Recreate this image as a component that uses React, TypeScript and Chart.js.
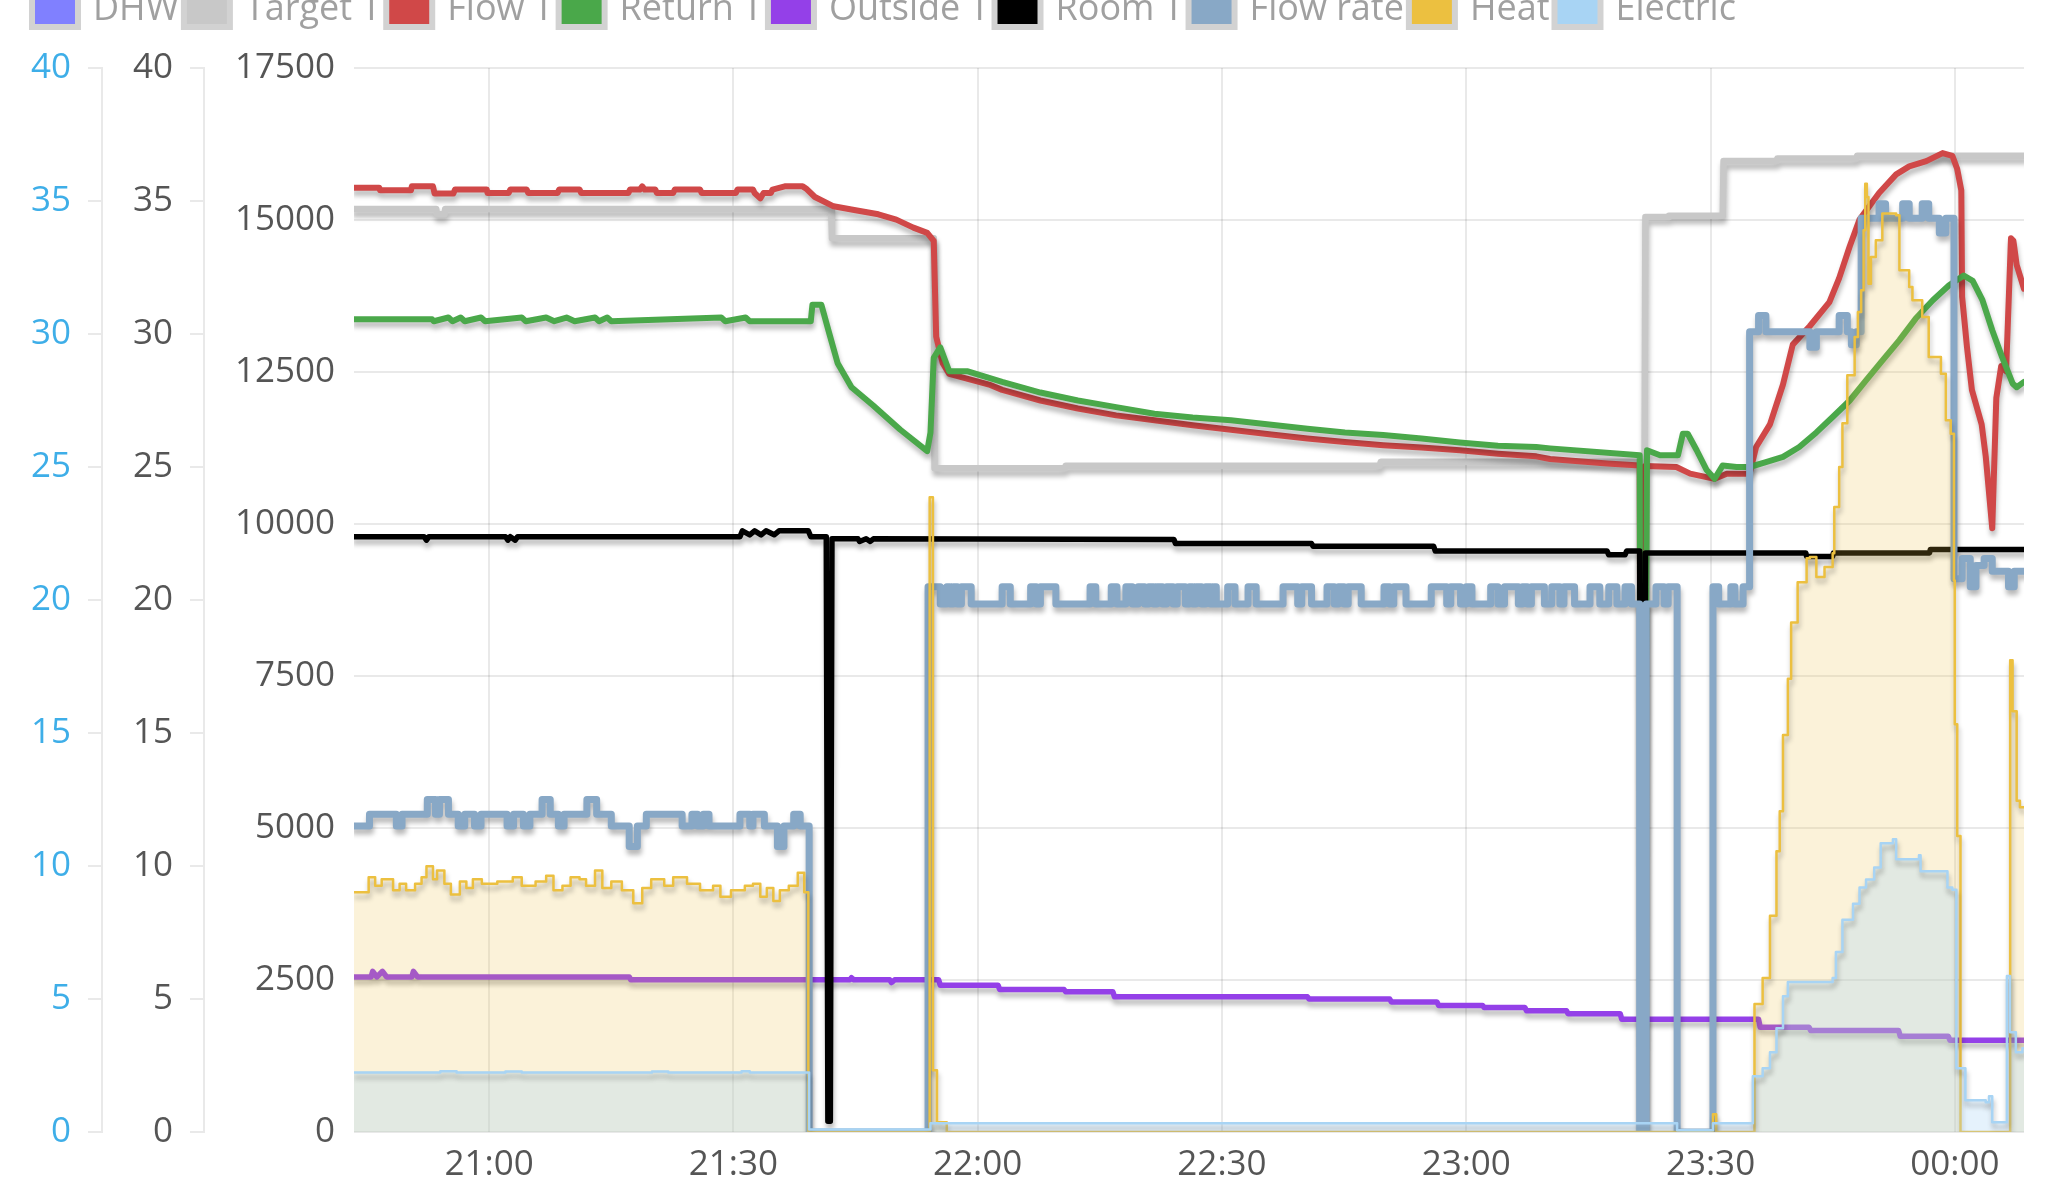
import React, { useEffect, useRef } from 'react';
import { Chart, registerables } from 'chart.js';

Chart.register(...registerables);

type Pt = [number, number];

// time in minutes since 00:00 of the first day (21:00 = 1260, 00:00 = 1440)
const X_MIN = 1243.4;
const X_MAX = 1448.5;
const xTickValues = [1260, 1290, 1320, 1350, 1380, 1410, 1440];
const xTickLabels = ['21:00', '21:30', '22:00', '22:30', '23:00', '23:30', '00:00'];

const seriesNames = ['DHW', 'Target T', 'Flow T', 'Return T', 'Outside T', 'Room T', 'Flow rate', 'Heat', 'Electric'];
const seriesColors = ['#8080ff', '#c8c8c8', '#d04848', '#4aa84a', '#9440e8', '#000000', '#88a8c6', '#ecc040', '#a8d4f4'];

const dhw: Pt[] = [];

const targetT: Pt[] = [
  [1243.4, 34.7], [1253.5, 34.7], [1253.6, 34.5], [1254.5, 34.5], [1254.6, 34.7], [1302.0, 34.7],
  [1302.1, 33.6], [1314.6, 33.6], [1314.7, 24.95], [1330.7, 24.95], [1330.8, 25.05], [1369.4, 25.05],
  [1369.5, 25.2], [1401.9, 25.2], [1402.0, 34.4], [1404.8, 34.4], [1404.9, 34.45], [1411.5, 34.45],
  [1411.6, 36.5], [1418.1, 36.5], [1418.2, 36.6], [1427.9, 36.6], [1428.0, 36.7], [1448.5, 36.7],
];

const flowT: Pt[] = [
  [1243.4, 35.5], [1246.5, 35.5], [1246.6, 35.4], [1250.4, 35.4], [1250.5, 35.55], [1253.1, 35.55],
  [1253.3, 35.28], [1255.6, 35.28], [1255.8, 35.43], [1259.7, 35.43], [1259.8, 35.3], [1262.4, 35.3],
  [1262.6, 35.43], [1264.6, 35.43], [1264.8, 35.3], [1268.4, 35.3], [1268.6, 35.43], [1271.1, 35.43],
  [1271.3, 35.3], [1277.1, 35.3], [1277.3, 35.43], [1278.5, 35.43], [1278.8, 35.55], [1279.1, 35.43],
  [1280.4, 35.43], [1280.6, 35.3], [1282.6, 35.3], [1282.8, 35.43], [1285.9, 35.43], [1286.1, 35.3],
  [1290.3, 35.3], [1290.5, 35.43], [1292.4, 35.43], [1292.6, 35.3], [1293.3, 35.1], [1293.7, 35.3],
  [1294.6, 35.3], [1294.8, 35.43], [1296.3, 35.55], [1298.5, 35.55], [1299.0, 35.45], [1300.0, 35.15],
  [1302.3, 34.8], [1305.0, 34.65], [1307.8, 34.5], [1310.0, 34.3], [1312.1, 34.0], [1313.8, 33.8],
  [1314.6, 33.5], [1314.9, 29.9], [1315.7, 28.9], [1316.5, 28.5], [1321.4, 28.1], [1323.0, 27.9],
  [1327.7, 27.5], [1332.3, 27.2], [1337.0, 26.94], [1341.7, 26.76], [1346.4, 26.57], [1351.1, 26.4],
  [1355.8, 26.23], [1360.5, 26.07], [1365.1, 25.94], [1369.8, 25.82], [1374.5, 25.73], [1379.2, 25.63],
  [1383.9, 25.5], [1388.6, 25.4], [1390.3, 25.3], [1397.3, 25.13], [1401.3, 25.06], [1401.5, 0],
  [1401.8, 0], [1402.0, 25.04], [1405.8, 25.0], [1407.5, 24.75], [1409.5, 24.62], [1410.5, 24.56],
  [1412.0, 24.75], [1414.8, 24.75], [1415.6, 25.75], [1417.3, 26.6], [1418.9, 28.1], [1420.1, 29.6],
  [1422.2, 30.3], [1424.6, 31.2], [1425.8, 32.1], [1427.1, 33.3], [1428.3, 34.3], [1430.7, 35.3],
  [1432.8, 36.0], [1434.4, 36.3], [1436.5, 36.5], [1438.5, 36.8], [1439.7, 36.7], [1440.3, 36.2],
  [1440.8, 35.4], [1440.9, 31.4], [1441.5, 29.5], [1442.1, 27.9], [1443.3, 26.6], [1443.8, 25.4],
  [1444.6, 22.7], [1445.1, 27.6], [1445.7, 28.8], [1446.3, 28.6], [1446.9, 33.6], [1447.2, 33.5],
  [1447.6, 32.6], [1448.5, 31.7],
];

const returnT: Pt[] = [
  [1243.4, 30.55], [1253.0, 30.55], [1253.2, 30.48], [1255.0, 30.62], [1255.5, 30.48], [1256.5, 30.62],
  [1257.0, 30.48], [1259.0, 30.62], [1259.5, 30.48], [1264.0, 30.62], [1264.5, 30.48], [1267.0, 30.62],
  [1268.0, 30.48], [1269.5, 30.62], [1270.5, 30.48], [1273.0, 30.62], [1273.5, 30.48], [1274.5, 30.62],
  [1275.0, 30.48], [1288.5, 30.62], [1289.0, 30.48], [1291.5, 30.62], [1292.0, 30.48], [1299.5, 30.48],
  [1299.7, 31.1], [1300.8, 31.1], [1301.7, 30.1], [1302.8, 28.9], [1304.5, 28.0], [1307.2, 27.3],
  [1310.5, 26.4], [1313.8, 25.6], [1314.2, 26.3], [1314.6, 29.1], [1315.4, 29.5], [1316.5, 28.6],
  [1318.7, 28.6], [1323.0, 28.2], [1327.7, 27.8], [1332.3, 27.5], [1337.0, 27.25], [1341.7, 27.0],
  [1346.4, 26.86], [1351.1, 26.76], [1355.8, 26.6], [1360.5, 26.44], [1365.1, 26.3], [1369.8, 26.2],
  [1374.5, 26.07], [1379.2, 25.92], [1383.9, 25.8], [1388.6, 25.75], [1390.3, 25.7], [1401.3, 25.44],
  [1401.5, 0], [1401.8, 0], [1402.2, 25.63], [1403.8, 25.44], [1406.0, 25.44], [1406.6, 26.25],
  [1407.2, 26.25], [1408.3, 25.63], [1409.5, 24.9], [1410.5, 24.56], [1411.5, 25.06], [1413.2, 25.0],
  [1414.8, 25.0], [1416.9, 25.19], [1418.9, 25.38], [1420.9, 25.75], [1423.0, 26.3], [1425.0, 26.88],
  [1427.1, 27.5], [1429.1, 28.26], [1431.1, 29.0], [1433.2, 29.77], [1435.2, 30.58], [1437.3, 31.27],
  [1439.3, 31.83], [1441.1, 32.2], [1442.2, 32.0], [1443.4, 31.27], [1444.6, 30.14], [1445.8, 29.14],
  [1447.1, 28.14], [1447.6, 28.0], [1448.5, 28.2],
];

const outsideT: Pt[] = [
  [1243.4, 5.83], [1245.5, 5.83], [1245.7, 6.04], [1246.2, 5.83], [1246.9, 6.04], [1247.4, 5.83],
  [1250.5, 5.83], [1250.7, 6.04], [1251.2, 5.83], [1277.2, 5.83], [1277.4, 5.72], [1304.3, 5.72],
  [1304.5, 5.8], [1304.8, 5.72], [1309.2, 5.72], [1309.4, 5.62], [1309.8, 5.72], [1315.2, 5.72],
  [1315.4, 5.52], [1322.5, 5.52], [1322.7, 5.36], [1330.6, 5.36], [1330.8, 5.27], [1336.6, 5.27],
  [1336.8, 5.08], [1360.5, 5.08], [1360.7, 5.0], [1370.6, 5.0], [1370.8, 4.89], [1376.4, 4.89],
  [1376.6, 4.76], [1382.0, 4.76], [1382.2, 4.68], [1387.2, 4.68], [1387.4, 4.56], [1392.3, 4.56],
  [1392.5, 4.45], [1398.9, 4.45], [1399.1, 4.24], [1401.3, 4.24], [1401.5, 0], [1401.8, 0],
  [1402.0, 4.24], [1415.9, 4.24], [1416.1, 3.94], [1422.1, 3.94], [1422.3, 3.82], [1433.1, 3.82],
  [1433.3, 3.6], [1439.2, 3.6], [1439.4, 3.45], [1448.5, 3.45],
];

const roomT: Pt[] = [
  [1243.4, 22.38], [1252.0, 22.38], [1252.3, 22.25], [1252.6, 22.38], [1262.0, 22.38], [1262.3, 22.25],
  [1262.6, 22.38], [1263.2, 22.25], [1263.5, 22.38], [1290.8, 22.38], [1291.1, 22.6], [1292.0, 22.45],
  [1292.6, 22.6], [1293.4, 22.45], [1294.0, 22.6], [1295.0, 22.45], [1295.6, 22.6], [1299.2, 22.6],
  [1299.5, 22.38], [1301.4, 22.38], [1301.6, 0.4], [1301.9, 0.4], [1302.1, 22.3], [1305.3, 22.3],
  [1305.5, 22.2], [1306.3, 22.3], [1306.8, 22.2], [1307.2, 22.3], [1344.1, 22.27], [1344.3, 22.12],
  [1361.0, 22.12], [1361.2, 22.02], [1376.0, 22.02], [1376.2, 21.84], [1397.3, 21.84], [1397.5, 21.7],
  [1399.5, 21.7], [1399.7, 21.84], [1401.3, 21.84], [1401.5, 0], [1401.8, 0], [1402.0, 21.77],
  [1421.7, 21.77], [1421.8, 21.64], [1425.0, 21.64], [1425.1, 21.77], [1436.9, 21.77], [1437.0, 21.9],
  [1448.5, 21.9],
];

// stepped: each value holds from its time until the next point
const flowRate: Pt[] = [
  [1243.4, 11.5], [1245.3, 11.95], [1248.6, 11.5], [1249.3, 11.95], [1252.4, 12.5], [1253.4, 11.95],
  [1253.9, 12.5], [1255.0, 11.95], [1256.2, 11.5], [1257.0, 11.95], [1258.2, 11.5], [1259.0, 11.95],
  [1262.2, 11.5], [1263.0, 11.95], [1264.2, 11.5], [1265.0, 11.95], [1266.5, 12.5], [1267.5, 11.95],
  [1268.5, 11.5], [1269.2, 11.95], [1272.0, 12.5], [1273.2, 11.95], [1275.0, 11.5], [1277.2, 10.73],
  [1278.2, 11.5], [1279.3, 11.95], [1283.7, 11.5], [1284.9, 11.95], [1285.6, 11.5], [1286.3, 11.95],
  [1287.0, 11.5], [1290.8, 11.95], [1292.0, 11.5], [1292.4, 11.95], [1293.8, 11.5], [1295.4, 10.73],
  [1296.2, 11.5], [1297.4, 11.95], [1298.2, 11.5], [1299.3, 0], [1313.9, 20.5], [1315.4, 19.85],
  [1316.2, 20.5], [1316.6, 19.85], [1317.0, 20.5], [1317.5, 19.85], [1318.0, 20.5], [1319.2, 19.85],
  [1323.0, 20.5], [1324.0, 19.85], [1326.5, 20.5], [1327.2, 19.85], [1327.7, 20.5], [1329.6, 19.85],
  [1333.8, 20.5], [1334.5, 19.85], [1336.4, 20.5], [1337.1, 19.85], [1338.2, 20.5], [1339.0, 19.85],
  [1339.7, 20.5], [1340.5, 19.85], [1341.0, 20.5], [1341.6, 19.85], [1342.0, 20.5], [1342.7, 19.85],
  [1343.2, 20.5], [1344.0, 19.85], [1344.5, 20.5], [1345.5, 19.85], [1346.0, 20.5], [1346.4, 19.85],
  [1346.8, 20.5], [1347.5, 19.85], [1348.0, 20.5], [1348.6, 19.85], [1349.0, 20.5], [1349.3, 19.85],
  [1350.7, 20.5], [1351.6, 19.85], [1353.2, 20.5], [1354.2, 19.85], [1357.5, 20.5], [1359.3, 19.85],
  [1359.8, 20.5], [1361.0, 19.85], [1362.9, 20.5], [1363.8, 19.85], [1364.3, 20.5], [1365.0, 19.85],
  [1365.5, 20.5], [1367.1, 19.85], [1369.9, 20.5], [1370.6, 19.85], [1371.1, 20.5], [1372.6, 19.85],
  [1375.7, 20.5], [1377.6, 19.85], [1378.1, 20.5], [1379.3, 19.85], [1380.0, 20.5], [1380.7, 19.85],
  [1383.0, 20.5], [1383.9, 19.85], [1384.7, 20.5], [1386.4, 19.85], [1386.9, 20.5], [1387.5, 19.85],
  [1388.0, 20.5], [1389.6, 19.85], [1390.5, 20.5], [1391.5, 19.85], [1392.0, 20.5], [1393.3, 19.85],
  [1395.2, 20.5], [1396.4, 19.85], [1397.5, 20.5], [1398.5, 19.85], [1399.5, 20.5], [1400.3, 19.85],
  [1401.3, 0], [1402.1, 19.85], [1403.3, 20.5], [1404.3, 19.85], [1404.8, 20.5], [1405.9, 0],
  [1410.3, 20.5], [1411.0, 19.85], [1412.5, 20.5], [1413.0, 19.85], [1414.0, 20.5], [1414.8, 30.08],
  [1415.9, 30.7], [1416.8, 30.08], [1422.2, 29.5], [1423.0, 30.08], [1425.8, 30.7], [1426.8, 30.08],
  [1427.3, 29.6], [1427.9, 30.08], [1428.5, 34.35], [1430.7, 34.9], [1431.5, 34.35], [1433.6, 34.9],
  [1434.4, 34.35], [1436.0, 34.9], [1436.8, 34.35], [1438.1, 33.8], [1438.9, 34.35], [1439.9, 20.8],
  [1440.9, 21.56], [1441.9, 20.5], [1442.6, 21.3], [1443.6, 21.56], [1444.6, 21.08], [1446.6, 20.5],
  [1447.3, 21.08], [1448.5, 21.08],
];

const heat: Pt[] = [
  [1243.4, 3942], [1245.2, 4192], [1246.0, 4049], [1246.8, 4156], [1248.2, 3978], [1249.0, 4085],
  [1249.8, 3978], [1250.9, 4085], [1251.7, 4192], [1252.3, 4371], [1253.1, 4156], [1253.6, 4299],
  [1254.5, 4085], [1255.3, 3907], [1256.4, 4121], [1257.2, 4014], [1258.0, 4156], [1259.1, 4085],
  [1261.0, 4121], [1262.9, 4192], [1264.0, 4049], [1265.7, 4121], [1267.0, 4213], [1267.9, 3978],
  [1269.0, 4049], [1270.0, 4192], [1271.1, 4156], [1271.9, 4049], [1273.0, 4299], [1273.9, 4014],
  [1275.0, 4121], [1276.3, 3978], [1277.7, 3764], [1278.8, 4014], [1279.9, 4156], [1281.5, 4049],
  [1282.6, 4192], [1284.3, 4085], [1285.9, 3978], [1287.5, 4049], [1288.4, 3871], [1289.7, 3978],
  [1291.4, 4049], [1292.4, 4085], [1293.3, 3871], [1294.1, 4014], [1294.9, 3800], [1295.7, 3978],
  [1296.8, 4049], [1297.9, 4263], [1298.7, 3942], [1299.2, 0], [1314.1, 10440], [1314.5, 1015],
  [1315.0, 160], [1316.2, 0], [1410.3, 290], [1410.7, 0], [1415.4, 2104], [1416.4, 2533],
  [1417.3, 3556], [1418.1, 4617], [1418.5, 5275], [1418.9, 6530], [1419.5, 7454], [1419.9, 8378],
  [1420.7, 9041], [1421.8, 9436], [1422.2, 9457], [1423.0, 9128], [1424.0, 9292], [1425.0, 9518],
  [1425.2, 10280], [1425.8, 10937], [1426.2, 11656], [1426.8, 12445], [1427.7, 13075], [1428.1, 13487],
  [1428.5, 13844], [1428.8, 14830], [1429.0, 15598], [1429.2, 15378], [1429.4, 13953], [1429.7, 14391],
  [1430.3, 14666], [1431.1, 15105], [1432.8, 15077], [1433.2, 14173], [1434.4, 13898], [1434.8, 13679],
  [1436.0, 13404], [1436.8, 12746], [1438.3, 12473], [1438.9, 11705], [1439.5, 11486], [1439.9, 9070],
  [1440.0, 6705], [1440.3, 4870], [1440.7, 0], [1446.8, 7758], [1447.1, 6920], [1447.6, 5447],
  [1448.0, 5340], [1448.5, 5340],
];

const electric: Pt[] = [
  [1243.4, 980], [1254.0, 1000], [1256.0, 980], [1262.0, 995], [1264.0, 980], [1280.0, 995],
  [1282.0, 980], [1291.0, 1000], [1292.0, 980], [1299.3, 40], [1314.2, 145], [1405.9, 30],
  [1410.3, 145], [1415.2, 916], [1416.4, 1048], [1417.3, 1311], [1418.1, 1706], [1418.9, 2232],
  [1419.5, 2467], [1425.0, 2533], [1425.4, 2962], [1426.2, 3490], [1427.5, 3755], [1428.3, 4020],
  [1429.1, 4151], [1430.1, 4349], [1430.9, 4748], [1432.4, 4814], [1432.8, 4485], [1435.6, 4551],
  [1435.8, 4288], [1439.1, 4020], [1439.7, 3985], [1440.2, 1048], [1441.3, 521], [1443.8, 488],
  [1444.2, 586], [1444.6, 160], [1446.0, 160], [1446.4, 2566], [1446.8, 1640], [1447.5, 1311],
  [1448.3, 1376], [1448.5, 1376],
];

const GRID = 'rgba(0,0,0,0.085)';
const TICK_GRAY = '#555555';
const TICK_BLUE = '#3eaee8';

const LEGEND_FONT = 36;
const LEGEND_BOX_H = 28;
const LEGEND_PAD = 8;

const shadowPlugin = {
  id: 'lineShadow',
  beforeDatasetDraw(chart: any) {
    const c = chart.ctx;
    c.save();
    c.shadowColor = 'rgba(0,0,0,0.28)';
    c.shadowBlur = 5;
    c.shadowOffsetX = 1;
    c.shadowOffsetY = 5;
  },
  afterDatasetDraw(chart: any) {
    chart.ctx.restore();
  },
};

const legendPlugin = {
  id: 'legendTweaks',
  beforeLayout(chart: any) {
    const lg = chart.legend;
    if (lg && !lg.__patched) {
      const orig = lg.fit;
      lg.fit = function () {
        orig.call(this);
        this.height = 84;
      };
      lg.__patched = true;
    }
  },
  beforeDraw(chart: any) {
    const lg = chart.legend;
    if (!lg || !lg.legendHitBoxes) return;
    const c = chart.ctx;
    c.save();
    c.fillStyle = '#d2d2d2';
    lg.legendHitBoxes.forEach((hb: any) => {
      const boxTop = hb.top + (LEGEND_FONT - LEGEND_BOX_H) / 2;
      c.fillRect(hb.left - 6, boxTop - 6, 52, LEGEND_BOX_H + 12);
    });
    c.restore();
  },
};

function mk(i: number, pts: Pt[], axis: string, extra: any = {}) {
  return {
    label: seriesNames[i],
    data: pts.map(([x, y]) => ({ x, y })),
    yAxisID: axis,
    borderColor: seriesColors[i],
    backgroundColor: seriesColors[i],
    borderWidth: 6,
    pointRadius: 0,
    pointHoverRadius: 0,
    fill: false,
    tension: 0,
    borderJoinStyle: 'round',
    borderCapStyle: 'round',
    order: 20 - i,
    ...extra,
  };
}

export default function App() {
  const ref = useRef<HTMLCanvasElement>(null);
  useEffect(() => {
    if (!ref.current) return;
    Chart.defaults.font.family = "'Open Sans', sans-serif";
    Chart.defaults.font.size = 35;
    const datasets: any[] = [
      mk(0, dhw, 'yTemp'),
      mk(1, targetT, 'yTemp', { borderWidth: 6.5 }),
      mk(2, flowT, 'yTemp'),
      mk(3, returnT, 'yTemp'),
      mk(4, outsideT, 'yTemp', { borderWidth: 5.5 }),
      mk(5, roomT, 'yTemp', { borderWidth: 5.5 }),
      mk(6, flowRate, 'yFlow', { stepped: true, borderWidth: 7 }),
      mk(7, heat, 'yPower', { stepped: true, borderWidth: 2.5, fill: 'origin', backgroundColor: 'rgba(236,192,64,0.2)' }),
      mk(8, electric, 'yPower', { stepped: true, borderWidth: 2.5, fill: 'origin', backgroundColor: 'rgba(168,212,244,0.3)' }),
    ];
    const chart = new Chart(ref.current, {
      type: 'line',
      data: { datasets },
      plugins: [shadowPlugin, legendPlugin],
      options: {
        animation: false,
        responsive: false,
        devicePixelRatio: 1,
        events: [],
        layout: { padding: { left: 27, right: 41, top: 0, bottom: 0 } },
        plugins: {
          tooltip: { enabled: false },
          legend: {
            position: 'top',
            align: 'start',
            labels: {
              boxWidth: 40,
              boxHeight: LEGEND_BOX_H,
              padding: LEGEND_PAD,
              color: '#a0a0a0',
              font: { size: LEGEND_FONT, family: "'Open Sans', sans-serif" },
              sort: (a: any, b: any) => a.datasetIndex - b.datasetIndex,
              generateLabels: (ch: any) =>
                (Chart.defaults.plugins.legend.labels as any).generateLabels(ch).map((l: any) => ({
                  ...l,
                  fillStyle: seriesColors[l.datasetIndex],
                  strokeStyle: seriesColors[l.datasetIndex],
                  lineWidth: 0,
                })),
            },
          },
        },
        scales: {
          x: {
            type: 'linear',
            min: X_MIN,
            max: X_MAX,
            afterBuildTicks: (s: any) => {
              s.ticks = xTickValues.map((v) => ({ value: v }));
            },
            afterFit: (s: any) => {
              s.height = 64;
            },
            ticks: {
              callback: (_v: any, i: number) => xTickLabels[i],
              color: TICK_GRAY,
              padding: 12,
              maxRotation: 0,
              autoSkip: false,
              font: { size: 35 },
            },
            grid: { color: GRID, lineWidth: 2, drawTicks: false },
            border: { display: false },
          },
          yFlow: {
            type: 'linear',
            position: 'left',
            weight: 2,
            min: 0,
            max: 40,
            afterFit: (s: any) => {
              s.width = 75;
            },
            ticks: { stepSize: 5, color: TICK_BLUE, padding: 17, font: { size: 35 }, callback: (v: any) => String(v) },
            grid: { drawOnChartArea: false, tickLength: 14, color: GRID, lineWidth: 2 },
            border: { display: true, color: GRID, width: 2 },
          },
          yTemp: {
            type: 'linear',
            position: 'left',
            weight: 1,
            min: 0,
            max: 40,
            afterFit: (s: any) => {
              s.width = 102;
            },
            ticks: { stepSize: 5, color: TICK_GRAY, padding: 17, font: { size: 35 }, callback: (v: any) => String(v) },
            grid: { drawOnChartArea: false, tickLength: 14, color: GRID, lineWidth: 2 },
            border: { display: true, color: GRID, width: 2 },
          },
          yPower: {
            type: 'linear',
            position: 'left',
            weight: 0,
            min: 0,
            max: 17500,
            afterFit: (s: any) => {
              s.width = 150;
            },
            ticks: { stepSize: 2500, color: TICK_GRAY, padding: 19, font: { size: 35 }, callback: (v: any) => String(v) },
            grid: { color: GRID, lineWidth: 2, drawTicks: false },
            border: { display: false },
          },
        },
      } as any,
    });
    return () => chart.destroy();
  }, []);
  return (
    <div style={{ position: 'fixed', left: 0, top: -16, width: 2065, height: 1212, background: '#fff' }}>
      <canvas ref={ref} width={2065} height={1212} style={{ display: 'block', width: 2065, height: 1212 }} />
    </div>
  );
}
